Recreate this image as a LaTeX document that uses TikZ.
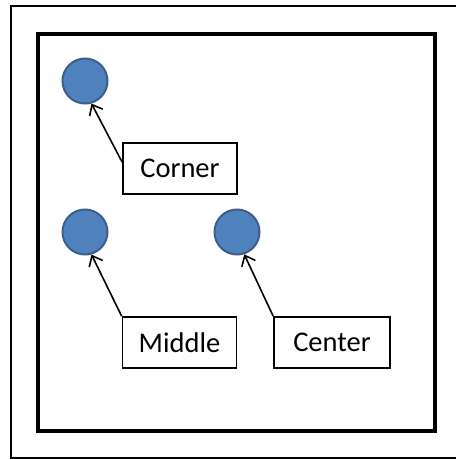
\documentclass[tikz,border=0pt]{standalone}
\usepackage{fontspec}
\setmainfont{Carlito}
\usetikzlibrary{arrows.meta,calc}
\definecolor{dotfill}{HTML}{4F81BD}
\definecolor{dotline}{HTML}{3A5F8B}
\tikzset{
  dot/.style={circle, fill=dotfill, draw=dotline, line width=2pt, minimum size=45pt, inner sep=0pt},
  label box/.style={draw=black, line width=1.7pt, fill=white, minimum height=51pt, inner sep=0pt, font=\fontsize{28.5}{30}\selectfont},
  pointer/.style={draw=black, line width=1.6pt, -{Straight Barb[length=9pt,width=15pt,line width=1.6pt]}}
}
\begin{document}
\begin{tikzpicture}[x=1pt,y=-1pt]
\useasboundingbox (0,0) rectangle (456,460);
\fill[white] (0,0) rectangle (456,460);
% outer frame (right side lies outside the picture)
\draw[line width=2.5pt] (456,6) -- (11,6) -- (11,458) -- (456,458);
% inner frame
\node[draw=black, line width=3.5pt, minimum width=397pt, minimum height=397pt, inner sep=0pt] (frame) at (236.5,232.5) {};
% dots
\node[dot] (c1) at (85,81) {};
\node[dot] (c2) at (85,232) {};
\node[dot] (c3) at (237,232) {};
% labels
\node[label box, minimum width=114pt] (corner) at (180,168.5) {Corner};
\node[label box, minimum width=114pt] (middle) at (179.5,342.5) {Middle};
\node[label box, minimum width=116pt] (center) at (332,342.5) {Center};
% pointers
\coordinate (cornerstart) at ($(corner.north west)+(0,20)$);
\draw[pointer] (cornerstart) -- (c1.-74);
\draw[pointer] (middle.north west) -- (c2.-74);
\draw[pointer] (center.north west) -- (c3.-72);
\end{tikzpicture}
\end{document}
